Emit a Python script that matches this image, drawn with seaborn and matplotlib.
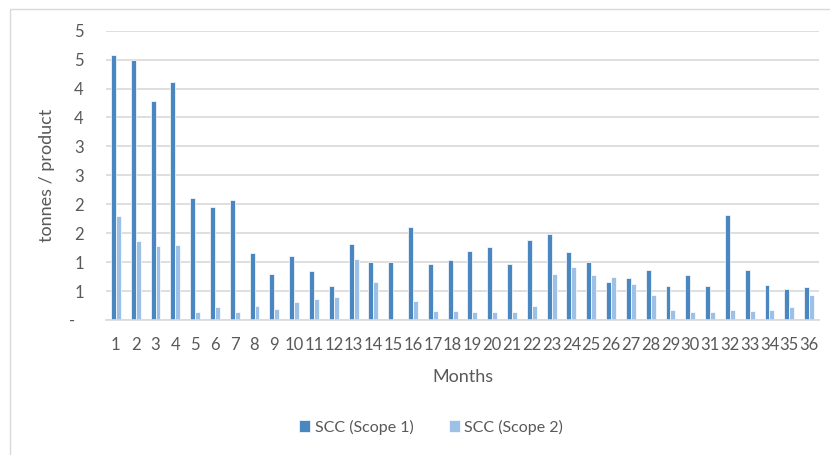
import numpy as np
import pandas as pd
import matplotlib
matplotlib.use("Agg")
import matplotlib.pyplot as plt
from matplotlib.patches import Rectangle
import seaborn as sns

# Monthly social cost of carbon per product, tonnes
months = [str(m) for m in range(1, 37)]
scope1 = [4.58, 4.49, 3.78, 4.11, 2.10, 1.95, 2.07, 1.15, 0.80, 1.10,
          0.85, 0.58, 1.32, 1.01, 1.01, 1.61, 0.96, 1.03, 1.20, 1.27,
          0.96, 1.39, 1.48, 1.18, 1.01, 0.65, 0.72, 0.87, 0.59, 0.78,
          0.58, 1.82, 0.87, 0.61, 0.54, 0.57]
scope2 = [1.80, 1.36, 1.28, 1.30, 0.13, 0.22, 0.13, 0.24, 0.19, 0.31,
          0.37, 0.40, 1.06, 0.66, 0.00, 0.33, 0.15, 0.15, 0.13, 0.13,
          0.13, 0.25, 0.80, 0.92, 0.77, 0.75, 0.62, 0.43, 0.17, 0.13,
          0.13, 0.18, 0.16, 0.17, 0.22, 0.43]
series_names = ["SCC (Scope 1)", "SCC (Scope 2)"]
ytick_values = [0, 0.5, 1.0, 1.5, 2.0, 2.5, 3.0, 3.5, 4.0, 4.5, 5.0]
ytick_labels = ["-  ", "1", "1", "2", "2", "3", "3", "4", "4", "5", "5"]

df = pd.DataFrame({
    "Month": months * 2,
    "value": scope1 + scope2,
    "series": [series_names[0]] * len(months) + [series_names[1]] * len(months),
})

sns.set_theme(style="white")
plt.rcParams["font.family"] = ["Lato", "DejaVu Sans"]
text_col = "#595959"
grid_col = "#D9D9D9"
colors = ["#4A86C0", "#9DC0E6"]

W, H = 830, 455
fig = plt.figure(figsize=(W / 100, H / 100), dpi=100)
ax = fig.add_axes([106 / W, 1 - 320 / H, (819 - 106) / W, (320 - 30.7) / H])

sns.barplot(data=df, x="Month", y="value", hue="series", palette=colors,
            width=0.5, ax=ax, edgecolor="white", linewidth=0.5,
            saturation=1, order=months, hue_order=series_names)

ax.set_xlim(-0.5, len(months) - 0.5)
ax.set_ylim(0, 5.0)
ax.set_yticks(ytick_values)
ax.set_yticklabels(ytick_labels)
ax.yaxis.grid(True, color=grid_col, linewidth=1.2)
ax.set_axisbelow(True)
for side in ["left", "right", "top"]:
    ax.spines[side].set_visible(False)
ax.spines["bottom"].set_color(grid_col)
ax.spines["bottom"].set_linewidth(1.2)
ax.tick_params(axis="both", length=0, labelsize=12, labelcolor=text_col)
ax.tick_params(axis="y", pad=16)
ax.tick_params(axis="x", pad=12)

ax.set_xlabel("Months", fontsize=13, color=text_col, labelpad=12)
ax.set_ylabel("tonnes / product", fontsize=13, color=text_col, labelpad=10)

handles, labels = ax.get_legend_handles_labels()
ax.get_legend().remove()
fig.legend(handles, labels, loc="center", bbox_to_anchor=(431 / W, 1 - 427 / H),
           ncol=2, frameon=False, fontsize=11.5, labelcolor=text_col,
           handlelength=0.7, handleheight=0.7, handletextpad=0.3,
           columnspacing=2.2)

# chart area border
fig.patches.append(Rectangle((10 / W, -0.2), 1.2, 1.2 - 9 / H,
                             transform=fig.transFigure, fill=False,
                             edgecolor=grid_col, linewidth=1))

fig.savefig("out.png", dpi=100)
